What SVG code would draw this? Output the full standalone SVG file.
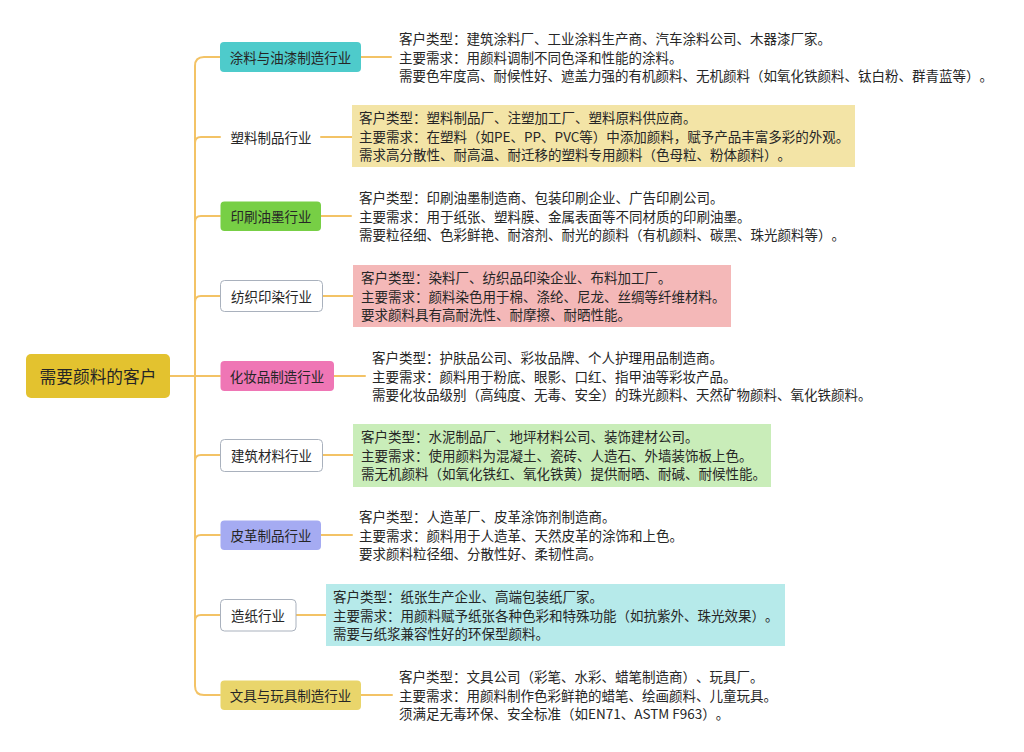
<svg xmlns="http://www.w3.org/2000/svg" width="1024" height="752" viewBox="0 0 1024 752">
<style>
text{font-family:"Noto Sans CJK SC","Noto Sans",sans-serif;fill:#262626;dominant-baseline:central;text-spacing-trim:space-all}
.t{font-size:13.5px}
.root{font-size:16.7px}
.lbl{font-size:13.5px}
.ln{fill:none;stroke:#F3C366;stroke-width:2;stroke-linecap:round}
.wb{fill:#fff;stroke:#A9B1BD;stroke-width:1}
</style>
<rect width="1024" height="752" fill="#fff"/>
<g id="connectors">
<path class="ln" d="M170,376 H220"/>
<path class="ln" d="M220,57 H204 Q195,57 195,66 V686 Q195,695 204,695 H220"/>
<path class="ln" d="M195,143 Q195,137 201,137 H220"/>
<path class="ln" d="M195,222 Q195,216 201,216 H220"/>
<path class="ln" d="M195,302 Q195,296 201,296 H220"/>
<path class="ln" d="M195,461 Q195,455 201,455 H220"/>
<path class="ln" d="M195,541 Q195,535 201,535 H220"/>
<path class="ln" d="M195,621 Q195,615 201,615 H220"/>
<path class="ln" d="M361,57 H391"/>
<path class="ln" d="M321,137 H352"/>
<path class="ln" d="M321,216 H351"/>
<path class="ln" d="M323,296 H353"/>
<path class="ln" d="M334,376 H365"/>
<path class="ln" d="M323,455 H353"/>
<path class="ln" d="M321,535 H352"/>
<path class="ln" d="M296,615 H326"/>
<path class="ln" d="M361,695 H392"/>
</g>
<g id="root">
<rect x="26" y="354" width="144" height="44" rx="5" fill="#E3C22F"/>
<text class="root" x="98" y="376" text-anchor="middle">需要颜料的客户</text>
</g>
<g id="n1">
<rect x="220" y="42" width="141" height="30" rx="4" fill="#4ECBCB"/>
<text class="lbl" x="290.5" y="57" text-anchor="middle">涂料与油漆制造行业</text>
</g>
<g id="n2">
<text class="lbl" x="271" y="137" text-anchor="middle">塑料制品行业</text>
</g>
<g id="n3">
<rect x="220.5" y="201.5" width="100.5" height="29.5" rx="4" fill="#77CF45"/>
<text class="lbl" x="271" y="216" text-anchor="middle">印刷油墨行业</text>
</g>
<g id="n4">
<rect class="wb" x="220.5" y="280.5" width="102" height="31" rx="4"/>
<text class="lbl" x="271.5" y="296" text-anchor="middle">纺织印染行业</text>
</g>
<g id="n5">
<rect x="220.5" y="361" width="113.5" height="30" rx="4" fill="#EF76B5"/>
<text class="lbl" x="277" y="376" text-anchor="middle">化妆品制造行业</text>
</g>
<g id="n6">
<rect class="wb" x="220.5" y="439.5" width="102" height="32" rx="4"/>
<text class="lbl" x="271.5" y="455" text-anchor="middle">建筑材料行业</text>
</g>
<g id="n7">
<rect x="220.5" y="520.5" width="100.5" height="29.5" rx="4" fill="#A5ABF2"/>
<text class="lbl" x="271" y="535" text-anchor="middle">皮革制品行业</text>
</g>
<g id="n8">
<rect class="wb" x="220.5" y="599.5" width="75.5" height="31.5" rx="4"/>
<text class="lbl" x="258" y="615" text-anchor="middle">造纸行业</text>
</g>
<g id="n9">
<rect x="220.5" y="680.5" width="140.5" height="29.5" rx="4" fill="#E9D56B"/>
<text class="lbl" x="290.5" y="695" text-anchor="middle">文具与玩具制造行业</text>
</g>
<g id="d1">
<text class="t" x="399" y="38">客户类型：建筑涂料厂、工业涂料生产商、汽车涂料公司、木器漆厂家。</text>
<text class="t" x="399" y="56.5">主要需求：用颜料调制不同色泽和性能的涂料。</text>
<text class="t" x="399" y="75">需要色牢度高、耐候性好、遮盖力强的有机颜料、无机颜料（如氧化铁颜料、钛白粉、群青蓝等）。</text>
</g>
<g id="d2">
<rect x="352" y="105" width="503" height="62" fill="#F3E4A6"/>
<text class="t" x="359" y="117">客户类型：塑料制品厂、注塑加工厂、塑料原料供应商。</text>
<text class="t" x="359" y="135.5">主要需求：在塑料（如PE、PP、PVC等）中添加颜料，赋予产品丰富多彩的外观。</text>
<text class="t" x="359" y="154">需求高分散性、耐高温、耐迁移的塑料专用颜料（色母粒、粉体颜料）。</text>
</g>
<g id="d3">
<text class="t" x="359" y="197">客户类型：印刷油墨制造商、包装印刷企业、广告印刷公司。</text>
<text class="t" x="359" y="215.5">主要需求：用于纸张、塑料膜、金属表面等不同材质的印刷油墨。</text>
<text class="t" x="359" y="234">需要粒径细、色彩鲜艳、耐溶剂、耐光的颜料（有机颜料、碳黑、珠光颜料等）。</text>
</g>
<g id="d4">
<rect x="353" y="265" width="378" height="62" fill="#F4B8B8"/>
<text class="t" x="361" y="277">客户类型：染料厂、纺织品印染企业、布料加工厂。</text>
<text class="t" x="361" y="295.5">主要需求：颜料染色用于棉、涤纶、尼龙、丝绸等纤维材料。</text>
<text class="t" x="361" y="314">要求颜料具有高耐洗性、耐摩擦、耐晒性能。</text>
</g>
<g id="d5">
<text class="t" x="372" y="357">客户类型：护肤品公司、彩妆品牌、个人护理用品制造商。</text>
<text class="t" x="372" y="375.5">主要需求：颜料用于粉底、眼影、口红、指甲油等彩妆产品。</text>
<text class="t" x="372" y="394">需要化妆品级别（高纯度、无毒、安全）的珠光颜料、天然矿物颜料、氧化铁颜料。</text>
</g>
<g id="d6">
<rect x="353" y="424" width="418" height="63" fill="#C9EDB9"/>
<text class="t" x="361" y="436">客户类型：水泥制品厂、地坪材料公司、装饰建材公司。</text>
<text class="t" x="361" y="454.5">主要需求：使用颜料为混凝土、瓷砖、人造石、外墙装饰板上色。</text>
<text class="t" x="361" y="473">需无机颜料（如氧化铁红、氧化铁黄）提供耐晒、耐碱、耐候性能。</text>
</g>
<g id="d7">
<text class="t" x="359" y="516">客户类型：人造革厂、皮革涂饰剂制造商。</text>
<text class="t" x="359" y="534.5">主要需求：颜料用于人造革、天然皮革的涂饰和上色。</text>
<text class="t" x="359" y="553">要求颜料粒径细、分散性好、柔韧性高。</text>
</g>
<g id="d8">
<rect x="326" y="584" width="459" height="62" fill="#B6EAEA"/>
<text class="t" x="333" y="596">客户类型：纸张生产企业、高端包装纸厂家。</text>
<text class="t" x="333" y="614.5">主要需求：用颜料赋予纸张各种色彩和特殊功能（如抗紫外、珠光效果）。</text>
<text class="t" x="333" y="633">需要与纸浆兼容性好的环保型颜料。</text>
</g>
<g id="d9">
<text class="t" x="399" y="676">客户类型：文具公司（彩笔、水彩、蜡笔制造商）、玩具厂。</text>
<text class="t" x="399" y="694.5">主要需求：用颜料制作色彩鲜艳的蜡笔、绘画颜料、儿童玩具。</text>
<text class="t" x="399" y="713">须满足无毒环保、安全标准（如EN71、ASTM F963）。</text>
</g>
</svg>
